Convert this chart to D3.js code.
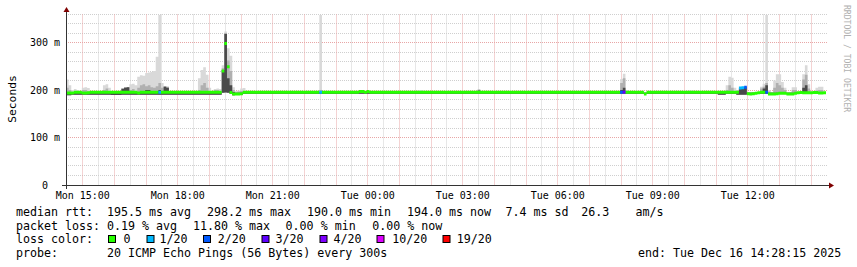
<!DOCTYPE html>
<html><head><meta charset="utf-8">
<script src="https://cdn.jsdelivr.net/npm/d3@7"></script>
<style>
html,body{margin:0;padding:0;background:#fff;}
svg{display:block;}
text{font-family:"DejaVu Sans Mono",monospace;}
</style></head><body>
<svg id="chart" width="857" height="267"></svg>
<script>
// ---------------- data ----------------
const startTime = new Date(2025, 11, 15, 14, 28, 15);
const endTime   = new Date(2025, 11, 16, 14, 28, 15);
const stepSeconds = 300;

// median rtt per 5-minute step (ms)
const median = [
193.5,193.5,193.5,195.5,195.5,195.5,193.5,193.5,194,195.5,195.5,195.5,195.5,195.5,195.5,195.5,195.5,195.5,195.5,195.5,195.5,195.5,195.5,195.5,
195.5,195.5,195.5,193.5,195.5,195.5,195.5,195.5,195.5,195.5,195.5,195.5,195.5,195.5,195.5,195.5,195.5,195.5,195.5,195.5,195.5,195.5,195.5,195.5,
195.5,195.5,195.5,195.5,195.5,195.5,195.5,195.5,195.5,195.5,195.5,240,298,249,195,191.5,191.5,191.5,192,195.5,195.5,195.5,195.5,195.5,
195.5,195.5,195.5,195.5,195.5,195.5,195.5,195.5,195.5,195.5,195.5,195.5,195.5,195.5,195.5,195.5,195.5,195.5,195.5,195.5,195.5,195.5,195.5,195.5,
195.5,195.5,195.5,195.5,195.5,195.5,195.5,195.5,195.5,195.5,195.5,195.5,195.5,195.5,195.5,197,197,195.5,197,195.5,195.5,195.5,195.5,195.5,
195.5,195.5,195.5,195.5,195.5,195.5,195.5,195.5,195.5,195.5,195.5,195.5,195.5,195.5,195.5,195.5,195.5,195.5,195.5,195.5,195.5,195.5,195.5,195.5,
195.5,195.5,195.5,195.5,195.5,195.5,195.5,195.5,195.5,195.5,195.5,195.5,195.5,195.5,195.5,195.5,195.5,195.5,195.5,195.5,195.5,195.5,195.5,195.5,
195.5,195.5,195.5,195.5,195.5,195.5,195.5,195.5,195.5,195.5,195.5,195.5,195.5,195.5,195.5,195.5,195.5,195.5,195.5,195.5,195.5,195.5,195.5,195.5,
195.5,195.5,195.5,195.5,195.5,195.5,195.5,195.5,195.5,195.5,195.5,195.5,195.5,195.5,195.5,195.5,195.5,195.5,195.5,195.5,195.5,195.5,195.5,195.5,
195.5,195.5,195.5,191.5,195.5,195.5,195.5,195.5,195.5,195.5,195.5,195.5,195.5,195.5,195.5,195.5,195.5,195.5,195.5,195.5,195.5,195.5,195.5,195.5,
195.5,195.5,195.5,195.5,195.5,195.5,195.5,195.5,195.5,195.5,195.5,195.5,195.5,195.5,195.5,204,205,206,192,191.5,192,193,194,195.5,
195.5,195.5,191.5,191.5,191.5,192,193,193,193,191.5,191.5,191.5,193,194,195,194,194,194,194,194.5,194.5,193.5,193.5,194
];
// smoke: lowest ping, upper edge of dark band, upper edge of mid band, highest ping (ms)
const pingMin = [
189,189,190,190,190,190,190,190,190,190,190,190,190,190,190,190,190,189.5,189.5,189.5,189.5,190,190,190,
190,190,190,190,190,190,190,190,190,190,190,190,190,190,190,190,190,190,190,190,190,190,190,190,
190,190,190,190,190,190,190,190,190,190,190,194,195,194,192,189,190,190,190,192,192,192,192,192,
192,192,192,192,192,192,192,192,192,192,192,192,192,192,192,192,192,192,192,192,192,192,192,192,
192,192,192,192,192,192,192,192,192,192,192,192,192,192,192,192,192,192,192,192,192,192,192,192,
192,192,192,192,192,192,192,192,192,192,192,192,192,192,192,192,192,192,192,192,192,192,192,192,
192,192,192,192,192,192,192,192,192,192,192,192,192,192,192,192,192,192,192,192,192,192,192,192,
192,192,192,192,192,192,192,192,192,192,192,192,192,192,192,192,192,192,192,192,192,192,192,192,
192,192,192,192,192,192,192,192,192,192,192,192,192,192,192,192,192,192,192,192,192,192,192,192,
192,192,192,192,192,192,192,192,192,192,192,192,192,192,192,192,192,192,192,192,192,192,192,192,
192,192,192,192,192,192,192,190,190,190,192,192,192,192,190,190,190,190,192,192,192,192,192,192,
192,192,192,192,192,192,192,192,192,192,192,192,192,192,192,192,192,192,192,192,192,192,192,192
];
const pingDark = [
195,195,194,194,194,194,194,194,194,194,194,194,194,194,194,194,194,194,194,194,194,202,205,206,
194,194,194,194,194,197,200,200,198,196,198,200,196,207,205,194,194,194,194,194,194,194,194,194,
194,194,194,194,194,194,194,194,194,194,194,242,318,225,210,196,194,194,194,194,194,194,194,194,
194,194,194,194,194,194,194,194,194,194,194,194,194,194,194,194,194,194,194,194,194,194,194,194,
196,194,194,194,194,194,194,194,194,194,194,194,194,194,194,194,194,194,194,194,194,194,194,194,
194,194,194,194,194,194,194,194,194,194,194,194,194,194,194,194,194,194,194,194,194,194,194,194,
194,194,194,194,194,194,194,194,194,194,194,194,199,194,194,194,194,194,194,194,194,194,194,194,
194,194,194,194,194,194,194,194,194,194,194,194,194,194,194,194,194,194,194,194,194,194,194,194,
194,194,194,194,194,194,194,194,194,194,194,194,194,194,194,194,194,194,200,205,194,194,194,194,
194,194,194,194,194,194,194,194,194,194,194,194,194,194,194,194,194,194,194,194,194,194,194,194,
194,194,194,194,194,194,194,194,194,194,194,194,194,194,198,203,205,206,194,194,194,194,194,194,
203,210,194,194,194,194,194,194,194,194,194,194,194,194,194,205,210,194,194,194,194,194,194,194
];
const pingMid = [
205,200,196,198,196,195,200,200,197,195,195,195,195,195,200,203,198,195,195,195,195,204,206,206,
200,202,198,205,210,212,208,210,206,205,208,215,205,208,206,195,195,195,195,195,195,195,195,195,
195,195,200,210,215,205,198,195,200,200,198,246,320,262,240,200,195,197,198,198,195,195,195,195,
195,195,195,195,195,195,195,195,195,195,195,195,195,195,195,195,195,195,195,195,195,195,195,195,
200,195,195,195,195,195,195,195,195,195,195,195,195,195,195,195,195,195,195,195,195,195,195,195,
195,195,195,195,195,195,195,195,195,195,195,195,195,197,198,197,195,195,195,195,195,195,195,195,
195,195,195,195,195,195,195,195,195,195,195,195,201,195,195,195,195,195,195,195,195,195,195,195,
195,195,195,195,195,195,195,195,195,195,195,195,195,195,195,195,195,195,195,195,195,195,195,195,
195,195,195,195,195,195,195,195,195,195,195,195,195,195,195,195,195,195,215,225,198,195,195,195,
195,195,195,195,195,195,195,195,195,195,195,195,195,195,195,195,195,195,195,195,197,197,195,195,
195,195,195,195,195,195,195,195,195,195,200,210,205,198,199,205,206,207,195,195,195,195,195,203,
207,215,197,195,205,215,210,205,200,195,195,200,200,195,195,222,232,203,195,195,199,200,200,195
];
const pingMax = [
222,210,200,202,200,197,205,206,204,198,196,196,196,196,210,212,205,196,196,196,196,204,206,206,
212,213,210,228,231,230,236,237,238,240,270,358,215,208,208,196,196,196,196,196,196,196,196,196,
196,196,225,242,248,232,205,196,202,203,202,252,323,288,272,206,198,199,203,204,196,196,196,196,
196,196,196,196,196,196,196,196,196,196,196,196,196,196,196,196,196,196,196,196,196,196,196,196,
358,196,196,196,196,196,196,196,196,196,196,196,196,196,196,196,196,196,196,196,196,196,196,196,
196,196,196,196,196,196,196,196,196,196,196,196,196,199,200,199,196,196,196,196,196,196,196,196,
196,196,196,196,196,196,196,196,196,196,196,196,201,196,196,196,196,196,196,196,196,196,196,196,
196,196,196,196,196,196,196,196,196,196,196,196,196,196,196,196,196,196,196,196,196,196,196,196,
196,196,196,196,196,196,196,196,196,196,196,196,196,196,196,196,196,196,223,234,200,196,196,196,
196,196,196,196,196,196,196,196,196,196,196,196,196,196,196,196,196,196,196,196,199,199,196,196,
196,196,196,196,196,196,196,196,196,196,210,228,226,205,200,206,207,208,196,196,196,196,196,207,
213,358,200,196,220,233,233,217,205,196,196,206,206,196,196,233,252,212,196,196,205,207,207,196
];
// lost pings (out of 20) per step
const lossCount = [
0,0,0,0,0,0,0,0,0,0,0,0,0,0,0,0,0,0,0,0,0,0,0,0,
0,0,0,0,0,0,0,0,0,0,0,1,0,0,0,0,0,0,0,0,0,0,0,0,
0,0,0,0,0,0,0,0,0,0,0,0,0,0,0,0,0,0,0,0,0,0,0,0,
0,0,0,0,0,0,0,0,0,0,0,0,0,0,0,0,0,0,0,0,0,0,0,0,
1,0,0,0,0,0,0,0,0,0,0,0,0,0,0,0,0,0,0,0,0,0,0,0,
0,0,0,0,0,0,0,0,0,0,0,0,0,0,0,0,0,0,0,0,0,0,0,0,
0,0,0,0,0,0,0,0,0,0,0,0,0,0,0,0,0,0,0,0,0,0,0,0,
0,0,0,0,0,0,0,0,0,0,0,0,0,0,0,0,0,0,0,0,0,0,0,0,
0,0,0,0,0,0,0,0,0,0,0,0,0,0,0,0,0,0,2,3,0,0,0,0,
0,0,0,0,0,0,0,0,0,0,0,0,0,0,0,0,0,0,0,0,0,0,0,0,
0,0,0,0,0,0,0,0,0,0,0,0,0,0,0,1,1,2,0,0,0,0,0,0,
0,2,0,0,0,0,0,0,0,0,0,0,0,0,0,0,0,0,0,0,0,0,0,0
];

const yTickValues = [0, 100, 200, 300];
const yTickLabels = ["0", "100 m", "200 m", "300 m"];
const lossThresholds = [0, 1, 2, 3, 4, 10, 19];
const lossColors = ["#26ff00", "#00b8ff", "#0059ff", "#5e00ff", "#7e00ff", "#dd00ff", "#ff0000"];
const lossLabels = ["0", "1/20", "2/20", "3/20", "4/20", "10/20", "19/20"];
const rttLegend = ["median rtt:", "195.5 ms avg", "298.2 ms max", "190.0 ms min", "194.0 ms now", "7.4 ms sd", "26.3", "am/s"];
const lossLegend = ["packet loss:", "0.19 % avg", "11.80 % max", "0.00 % min", "0.00 % now"];
const probeLegend = ["probe:", "20 ICMP Echo Pings (56 Bytes) every 300s"];
const endLabel = "end: Tue Dec 16 14:28:15 2025";
const yAxisTitle = "Seconds";
const watermark = "RRDTOOL / TOBI OETIKER";

// ---------------- layout ----------------
const svg = d3.select("#chart");
const plot = {left: 66, right: 826, top: 14, bottom: 185};
const x = d3.scaleTime().domain([startTime, endTime]).range([plot.left, plot.right]);
const y = d3.scaleLinear().domain([0, 360]).range([plot.bottom, plot.top]);
const snap = v => Math.floor(v) + 0.5;

const minorColor = "#cfcfcf", majorColor = "#e8a6a6";
const grid = svg.append("g");
// horizontal grid
d3.range(20, 361, 20).forEach(v => {
  const major = v % 100 === 0;
  grid.append("line").attr("x1", plot.left).attr("x2", plot.right + 1)
    .attr("y1", snap(y(v))).attr("y2", snap(y(v)))
    .attr("stroke", major ? majorColor : minorColor).attr("stroke-dasharray", "1,1");
});
// vertical grid
x.ticks(d3.timeMinute.every(30)).forEach(t => {
  const major = t.getMinutes() === 0;
  grid.append("line").attr("x1", snap(x(t))).attr("x2", snap(x(t)))
    .attr("y1", snap(y(360))).attr("y2", plot.bottom)
    .attr("stroke", major ? majorColor : minorColor).attr("stroke-dasharray", "1,1");
});

// ---------------- smoke & median ----------------
const stepMs = stepSeconds * 1000;
const pts = [];
median.forEach((m, i) => {
  const t0 = new Date(startTime.getTime() + i * stepMs);
  const t1 = new Date(Math.min(t0.getTime() + stepMs, endTime.getTime()));
  pts.push({t: t0, i}); pts.push({t: t1, i});
});
const bandLayers = [
  {hi: pingMax, color: "#d9d9d9"},
  {hi: pingMid, color: "#b0b0b0"},
  {hi: pingDark, color: "#4a4a4a"}
];
bandLayers.forEach(b => {
  const area = d3.area().x(d => x(d.t)).y0(d => y(pingMin[d.i])).y1(d => y(b.hi[d.i]));
  svg.append("path").attr("d", area(pts)).attr("fill", b.color);
});
const bucket = i => {
  let b = 0;
  lossThresholds.forEach((th, k) => { if (lossCount[i] >= th) b = k; });
  return b;
};
lossColors.forEach((c, k) => {
  const area = d3.area().defined(d => bucket(d.i) === k)
    .x(d => x(d.t)).y0(d => y(median[d.i]) + 1.5).y1(d => y(median[d.i]) - 1.5);
  svg.append("path").attr("d", area(pts)).attr("fill", c);
});

// ---------------- axes ----------------
const axisColor = "#333", arrowColor = "#7f0000";
svg.append("line").attr("x1", 62).attr("x2", 829).attr("y1", snap(y(0))).attr("y2", snap(y(0))).attr("stroke", axisColor);
svg.append("line").attr("x1", snap(plot.left)).attr("x2", snap(plot.left)).attr("y1", 189).attr("y2", 11).attr("stroke", axisColor);
svg.append("path").attr("d", `M${829},${snap(y(0)) - 3}L${834},${snap(y(0))}L${829},${snap(y(0)) + 3}Z`).attr("fill", arrowColor);
svg.append("path").attr("d", `M${snap(plot.left) - 3},12L${snap(plot.left)},7L${snap(plot.left) + 3},12Z`).attr("fill", arrowColor);

// x labels
x.ticks(d3.timeHour.every(3)).forEach(t => {
  svg.append("text").attr("x", x(t)).attr("y", 199).attr("text-anchor", "middle")
    .attr("font-size", "10px").attr("fill", "#000").text(d3.timeFormat("%a %H:%M")(t));
});
// y labels
yTickValues.forEach((v, k) => {
  svg.append("text").attr("x", 45).attr("y", y(v) + 3.6).attr("text-anchor", "middle")
    .attr("font-size", "10px").attr("fill", "#000").text(yTickLabels[k]);
});
svg.append("text").attr("transform", "translate(15.5,99) rotate(-90)").attr("text-anchor", "middle")
  .attr("font-size", "11.3px").attr("fill", "#000").text(yAxisTitle);
svg.append("text").attr("transform", "translate(844,5) rotate(90)").attr("text-anchor", "start")
  .attr("font-size", "8.1px").attr("fill", "#b0b0b0").text(watermark);

// ---------------- legend ----------------
const fs = "11.65px";
const put = (xx, yy, s) => svg.append("text").attr("x", xx).attr("y", yy).attr("font-size", fs).attr("fill", "#000").attr("xml:space", "preserve").text(s);
const rttX = [16, 107, 207, 307, 407, 505.5, 581.2, 635.5];
rttLegend.forEach((s, k) => put(rttX[k], 215.8, s));
const lossX = [16, 107, 193, 285.6, 372.3];
lossLegend.forEach((s, k) => put(lossX[k], 229.5, s));
put(16, 243.2, "loss color:");
const boxX = [108, 146.5, 203, 261.5, 319.5, 376.5, 442.5];
const labX = [123.5, 159.6, 217.8, 275.6, 333.6, 392.2, 456.8];
lossColors.forEach((c, k) => {
  svg.append("rect").attr("x", boxX[k] + 0.5).attr("y", 235.5).attr("width", 7).attr("height", 7)
    .attr("fill", c).attr("stroke", "#000").attr("stroke-width", 1);
  put(labX[k], 243.2, lossLabels[k]);
});
put(16, 256.9, probeLegend[0]);
put(107, 256.9, probeLegend[1]);
put(638, 256.9, endLabel);
</script>
</body></html>
